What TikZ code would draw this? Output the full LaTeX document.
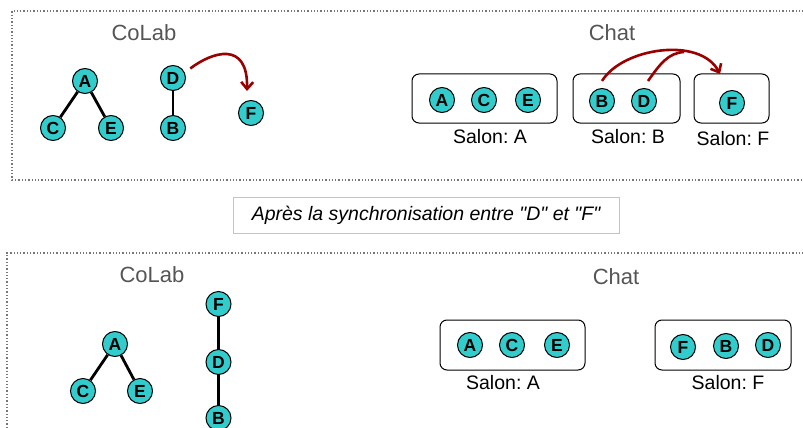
\documentclass[tikz,border=0pt]{standalone}
\usepackage{fontspec}
\setmainfont{Liberation Sans}
\newfontfamily\notefont{Liberation Sans}
\usetikzlibrary{arrows.meta,calc}
\definecolor{nodecyan}{HTML}{33CCCC}
\definecolor{syncred}{HTML}{990000}
\definecolor{titlegray}{HTML}{555555}
\definecolor{framegray}{HTML}{777777}
\definecolor{notegray}{HTML}{C4C4C4}
\frenchspacing
\begin{document}
\begin{tikzpicture}[x=1pt,y=-1pt,
  peer/.style={circle,draw=black,line width=1pt,fill=nodecyan,minimum size=25pt,inner sep=0pt,font=\fontsize{17.5}{17.5}\selectfont\bfseries},
  link/.style={line width=2.8pt,black},
  salon/.style={draw=black,line width=1pt,rounded corners=7pt},
  title/.style={text=titlegray,font=\fontsize{22}{22}\selectfont},
  caption/.style={font=\frenchspacing\fontsize{19.5}{20}\selectfont},
  frame/.style={draw=framegray,line width=1.3pt,dotted},
  sync/.style={draw=syncred,line width=2.6pt,-{Straight Barb[length=7pt,width=12pt,line width=2.6pt]}},
  syncjoin/.style={draw=syncred,line width=2.6pt}]
\useasboundingbox (0,0) rectangle (803,428);

% frames
\path[frame] (820,11) -- (12,11) -- (12,180) -- (820,180);
\path[frame] (820,253) -- (7,253) -- (7,440);

% ---------- top: CoLab ----------
\node[title] (colab1) at (144,33) {CoLab};
\node[peer] (A1) at (85,81) {A};
\node[peer] (C1) at (53,128) {C};
\node[peer] (E1) at (111,128) {E};
\node[peer] (D1) at (173,78) {D};
\node[peer] (B1) at (173,128) {B};
\node[peer] (F1) at (251,113) {F};
\draw[link] (A1) -- (C1);
\draw[link] (A1) -- (E1);
\draw[link] (D1) -- (B1);
\draw[sync] ($(D1.30)+(6,-3)$) .. controls (212,52) and (248,40) .. ($(F1.north)+(-4,-9)$);

% ---------- top: Chat ----------
\node[title] (chat1) at (612,33) {Chat};
\node[peer] (A2) at (442,100) {A};
\node[peer] (C2) at (484,100) {C};
\node[peer] (E2) at (528,100) {E};
\node[peer] (B2) at (602,101) {B};
\node[peer] (D2) at (644,101) {D};
\node[peer] (F2) at (732,103) {F};
\draw[salon] (412,74) rectangle (557,123);
\draw[salon] (573,74) rectangle (680,123);
\draw[salon] (694,74) rectangle (769,123);
\node[caption] (sa1) at (490,137) {Salon: A};
\node[caption] (sb1) at (628,137) {Salon: B};
\node[caption] (sf1) at (733,139) {Salon: F};
\coordinate (join) at (684,52);
\draw[sync] ($(B2.north)+(0,-7)$) .. controls (622,48) and (700,36) .. ($(F2.north)+(-12,-16)$);
\draw[syncjoin] ($(D2.north)+(4,-7)$) .. controls (660,64) and (668,53) .. (join);

% ---------- middle note ----------
\node[draw=notegray,line width=1pt,minimum width=386pt,minimum height=36pt,inner sep=0pt,
      font=\notefont\fontsize{19.5}{20}\selectfont\itshape] (note) at (426,215) {Après la synchronisation entre "D" et "F"};

% ---------- bottom: CoLab ----------
\node[title] (colab2) at (152,275) {CoLab};
\node[peer] (A3) at (115,344) {A};
\node[peer] (C3) at (83,391) {C};
\node[peer] (E3) at (140,391) {E};
\node[peer] (F3) at (218.5,304) {F};
\node[peer] (D3) at (218.5,362) {D};
\node[peer] (B3) at (218.5,418) {B};
\draw[link] (A3) -- (C3);
\draw[link] (A3) -- (E3);
\draw[link] (F3) -- (D3);
\draw[link] (D3) -- (B3);

% ---------- bottom: Chat ----------
\node[title] (chat2) at (616,277) {Chat};
\draw[salon] (440,320) rectangle (585,370);
\draw[salon] (655,320) rectangle (791,370);
\node[peer] (A4) at (470,345) {A};
\node[peer] (C4) at (512,345) {C};
\node[peer] (E4) at (557,345) {E};
\node[peer] (F4) at (683,347) {F};
\node[peer] (B4) at (726,346) {B};
\node[peer] (D4) at (768,345) {D};
\node[caption] (sa2) at (503,383) {Salon: A};
\node[caption] (sf2) at (728,383) {Salon: F};
\end{tikzpicture}
\end{document}
